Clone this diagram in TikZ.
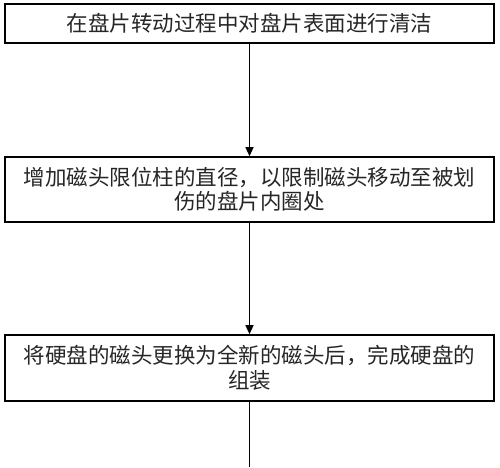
\documentclass[tikz,border=0pt]{standalone}
\usepackage{fontspec}
\newfontfamily\cjk{Noto Sans CJK SC}
\usetikzlibrary{arrows.meta}
\begin{document}
\begin{tikzpicture}[x=1pt,y=1pt,
  stepbox/.style={draw=black,line width=1.6pt,minimum width=489pt,inner sep=0pt,align=center,
    font=\cjk\fontsize{21.5pt}{24.5pt}\selectfont,text=black!85},
  flow/.style={line width=1.3pt,-{Triangle[length=9pt,width=8pt]}},
  plain/.style={line width=1.3pt}]
\useasboundingbox (0,0) rectangle (500,-467);
\node[stepbox,minimum height=39pt] (b1) at (249.5,-23.5) {在盘片转动过程中对盘片表面进行清洁};
\node[stepbox,minimum height=65pt] (b2) at (249.5,-189.5) {增加磁头限位柱的直径，以限制磁头移动至被划\\伤的盘片内圈处};
\node[stepbox,minimum height=66pt] (b3) at (249.5,-368) {将硬盘的磁头更换为全新的磁头后，完成硬盘的\\组装};
\coordinate (end) at (249.5,-467);
\draw[flow] (b1.south) -- (b2.north);
\draw[flow] (b2.south) -- (b3.north);
\draw[plain] (b3.south) -- (end);
\end{tikzpicture}
\end{document}
